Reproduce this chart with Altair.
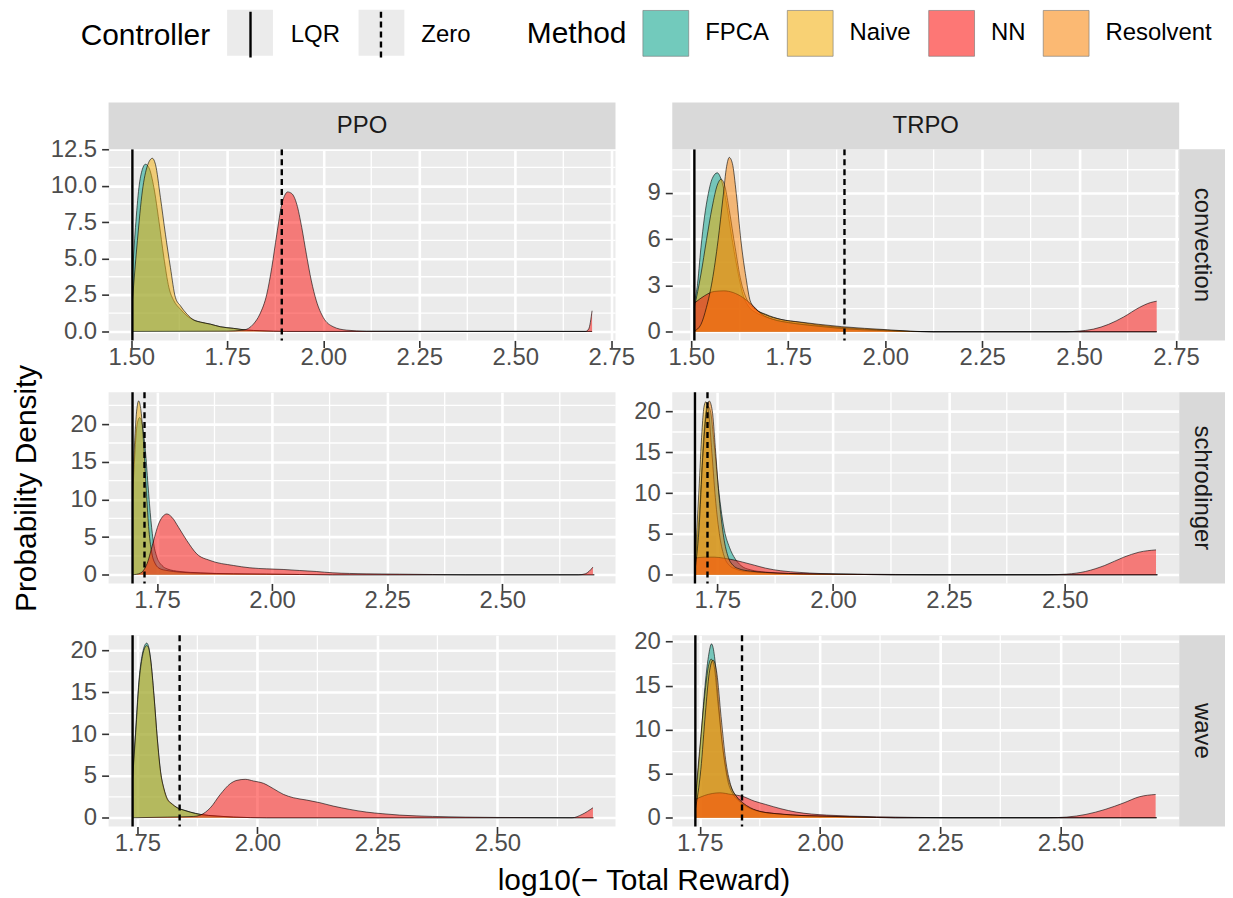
import altair as alt
import pandas as pd

FONT = "Liberation Sans"
PW, PH = 509, 192      # panel plot area
SH, RW = 47, 46        # strip thickness (top strips, right strips)

ALGOS = ["PPO", "TRPO"]
ENVS = ["convection", "schrodinger", "wave"]
METHODS = ["FPCA", "Naive", "NN", "Resolvent"]
METHOD_COLORS = ["#00A087", "#F3AD03", "#FD0905", "#F98101"]
CONTROLLERS = ["LQR", "Zero"]
CONTROLLER_DASH = [[1, 0], [6, 4]]
X_TITLE = "log10(\u2212 Total Reward)"
Y_TITLE = "Probability Density"

X_TICKS_CONV = [1.50, 1.75, 2.00, 2.25, 2.50, 2.75]
X_TICKS_OTHER = [1.75, 2.00, 2.25, 2.50]
Y_TICKS_PPO_CONV = [0, 2.5, 5, 7.5, 10, 12.5]
Y_TICKS_TRPO_CONV = [0, 3, 6, 9]
Y_TICKS_OTHER = [0, 5, 10, 15, 20]

LQR_VALUES = {
    ("convection", "PPO"): 1.503, ("convection", "TRPO"): 1.508,
    ("schrodinger", "PPO"): 1.697, ("schrodinger", "TRPO"): 1.702,
    ("wave", "PPO"): 1.740, ("wave", "TRPO"): 1.741,
}
ZERO_VALUES = {
    ("convection", "PPO"): 1.892, ("convection", "TRPO"): 1.895,
    ("schrodinger", "PPO"): 1.723, ("schrodinger", "TRPO"): 1.729,
    ("wave", "PPO"): 1.838, ("wave", "TRPO"): 1.838,
}
X_DOMAINS = {
    ("convection", "PPO"): [1.441, 2.761], ("convection", "TRPO"): [1.451, 2.758],
    ("schrodinger", "PPO"): [1.645, 2.746], ("schrodinger", "TRPO"): [1.653, 2.747],
    ("wave", "PPO"): [1.690, 2.746], ("wave", "TRPO"): [1.693, 2.747],
}
Y_DOMAINS = {
    ("convection", "PPO"): [-0.62, 12.5], ("convection", "TRPO"): [-0.565, 11.83],
    ("schrodinger", "PPO"): [-1.15, 24.24], ("schrodinger", "TRPO"): [-1.065, 22.37],
    ("wave", "PPO"): [-1.04, 21.84], ("wave", "TRPO"): [-0.99, 20.72],
}

# ---- density curves (x, density) ----
PPO_CONV_FPCA = [(1.503, 3.93), (1.511, 7.13), (1.520, 9.87), (1.529, 11.13), (1.537, 11.47), (1.546, 11.24),
                 (1.559, 9.87), (1.572, 7.59), (1.585, 5.07), (1.598, 3.02), (1.611, 2.10), (1.628, 1.53),
                 (1.645, 1.07), (1.663, 0.78), (1.680, 0.64), (1.706, 0.50), (1.732, 0.32), (1.766, 0.21),
                 (1.801, 0.09), (1.835, 0.05), (1.905, 0.0), (2.700, 0.0)]
PPO_CONV_NAIVE = [(1.503, 2.10), (1.516, 6.22), (1.529, 9.64), (1.542, 11.36), (1.555, 11.88), (1.563, 11.47),
                  (1.576, 9.19), (1.589, 6.67), (1.602, 4.39), (1.615, 2.33), (1.628, 1.76), (1.645, 1.19),
                  (1.663, 0.78), (1.680, 0.64), (1.706, 0.50), (1.732, 0.32), (1.766, 0.21), (1.801, 0.09),
                  (1.835, 0.05), (1.905, 0.0), (2.700, 0.0)]
PPO_CONV_NN = [(1.503, 0.0), (1.749, 0.02), (1.792, 0.09), (1.818, 0.50), (1.835, 1.19), (1.853, 2.56),
               (1.866, 4.39), (1.879, 6.67), (1.892, 8.73), (1.900, 9.35), (1.907, 9.57), (1.918, 9.46),
               (1.931, 8.73), (1.944, 7.13), (1.956, 5.30), (1.969, 3.47), (1.982, 2.10), (2.000, 0.96),
               (2.026, 0.32), (2.060, 0.09), (2.112, 0.02), (2.683, 0.0), (2.691, 0.16), (2.700, 1.42)]

TRPO_CONV_FPCA = [(1.508, 2.0), (1.515, 2.87), (1.525, 5.48), (1.534, 7.43), (1.544, 8.96), (1.554, 9.93),
                  (1.567, 10.30), (1.579, 9.72), (1.591, 8.30), (1.603, 6.35), (1.618, 4.17), (1.633, 2.43),
                  (1.647, 1.67), (1.667, 1.24), (1.692, 0.96), (1.731, 0.70), (1.780, 0.52), (1.829, 0.39),
                  (1.888, 0.26), (1.947, 0.15), (2.006, 0.09), (2.065, 0.02), (2.124, 0.0), (2.700, 0.0)]
TRPO_CONV_NAIVE = [(1.508, 1.57), (1.525, 3.74), (1.539, 5.91), (1.554, 8.09), (1.567, 9.50), (1.577, 9.89),
                   (1.587, 9.39), (1.598, 7.87), (1.613, 5.48), (1.628, 3.30), (1.643, 2.11), (1.662, 1.52),
                   (1.692, 1.13), (1.731, 0.80), (1.780, 0.61), (1.829, 0.43), (1.888, 0.28), (1.947, 0.17),
                   (2.006, 0.09), (2.065, 0.02), (2.124, 0.0), (2.700, 0.0)]
TRPO_CONV_NN = [(1.508, 1.85), (1.534, 2.33), (1.559, 2.61), (1.584, 2.65), (1.608, 2.54), (1.633, 2.22),
                (1.657, 1.74), (1.682, 1.13), (1.711, 0.80), (1.751, 0.59), (1.800, 0.43), (1.849, 0.30),
                (1.908, 0.17), (1.977, 0.09), (2.026, 0.04), (2.124, 0.0), (2.468, 0.0), (2.497, 0.04),
                (2.537, 0.17), (2.576, 0.48), (2.615, 0.96), (2.655, 1.57), (2.684, 1.89), (2.700, 1.98)]
TRPO_CONV_RES = [(1.508, 0.05), (1.525, 0.48), (1.539, 1.57), (1.554, 3.30), (1.569, 5.91), (1.582, 8.74),
                 (1.591, 10.70), (1.598, 11.30), (1.606, 10.91), (1.616, 8.96), (1.628, 5.91), (1.641, 3.52),
                 (1.652, 2.00), (1.667, 1.46), (1.692, 1.09), (1.731, 0.80), (1.780, 0.63), (1.829, 0.48),
                 (1.888, 0.33), (1.947, 0.22), (2.006, 0.13), (2.065, 0.04), (2.124, 0.0), (2.700, 0.0)]

PPO_SCHRO_FPCA = [(1.697, 9.85), (1.702, 16.03), (1.707, 20.0), (1.7125, 20.88), (1.718, 20.0), (1.725, 16.47),
                  (1.7305, 12.05), (1.737, 7.20), (1.743, 4.11), (1.750, 2.34), (1.761, 1.24), (1.772, 0.79),
                  (1.800, 0.44), (1.844, 0.26), (1.916, 0.13), (1.988, 0.09), (2.060, 0.04), (2.132, 0.0),
                  (2.700, 0.0)]
PPO_SCHRO_NAIVE = [(1.697, 12.05), (1.7017, 17.79), (1.7053, 21.32), (1.7103, 23.09), (1.7154, 21.77),
                   (1.7212, 17.35), (1.7269, 11.17), (1.7327, 5.87), (1.7392, 2.78), (1.7464, 1.46),
                   (1.7572, 0.79), (1.7716, 0.57), (1.800, 0.35), (1.844, 0.22), (1.916, 0.13), (1.988, 0.09),
                   (2.060, 0.04), (2.132, 0.0), (2.700, 0.0)]
PPO_SCHRO_NN = [(1.697, 0.0), (1.7139, 0.22), (1.7284, 1.46), (1.7428, 4.55), (1.7536, 6.75), (1.7644, 7.86),
                (1.7716, 8.08), (1.7825, 7.64), (1.7969, 6.31), (1.8149, 4.55), (1.8365, 2.78), (1.8654, 1.90),
                (1.9159, 1.24), (1.9519, 0.93), (1.988, 0.79), (2.024, 0.71), (2.0601, 0.57), (2.0961, 0.44),
                (2.1322, 0.26), (2.1683, 0.18), (2.2043, 0.13), (2.2764, 0.09), (2.3485, 0.04), (2.4206, 0.0),
                (2.6658, 0.0), (2.6803, 0.13), (2.697, 1.02)]

TRPO_SCHRO_FPCA = [(1.702, 0.94), (1.713, 9.08), (1.721, 17.2), (1.7286, 20.7), (1.7352, 20.1), (1.7434, 16.0),
                   (1.7541, 9.90), (1.7656, 5.42), (1.7763, 3.38), (1.7887, 1.96), (1.801, 1.14), (1.8215, 0.61),
                   (1.8544, 0.33), (1.9038, 0.16), (1.9696, 0.08), (2.0518, 0.04), (2.134, 0.0), (2.700, 0.0)]
TRPO_SCHRO_NAIVE = [(1.702, 1.34), (1.7105, 10.3), (1.7171, 17.6), (1.7212, 20.5), (1.7253, 21.2),
                    (1.7311, 20.1), (1.7377, 15.6), (1.7459, 9.49), (1.7558, 4.60), (1.7656, 2.16),
                    (1.7763, 1.14), (1.7887, 0.73), (1.8051, 0.45), (1.838, 0.29), (1.8873, 0.16),
                    (1.9696, 0.08), (2.0518, 0.04), (2.134, 0.0), (2.700, 0.0)]
TRPO_SCHRO_NN = [(1.702, 2.04), (1.7229, 2.16), (1.7434, 2.16), (1.764, 2.04), (1.7845, 1.83), (1.8051, 1.55),
                 (1.8298, 1.18), (1.8544, 0.81), (1.8873, 0.49), (1.9285, 0.29), (1.9696, 0.16), (2.0518, 0.08),
                 (2.134, 0.04), (2.216, 0.0), (2.463, 0.0), (2.5041, 0.08), (2.5452, 0.41), (2.5863, 1.14),
                 (2.6275, 2.16), (2.6604, 2.77), (2.697, 3.05)]
TRPO_SCHRO_RES = [(1.702, 0.53), (1.7105, 5.42), (1.7188, 14.4), (1.727, 20.1), (1.7327, 21.3), (1.7393, 20.1),
                  (1.7459, 15.6), (1.7541, 9.49), (1.764, 4.60), (1.7738, 2.16), (1.7845, 1.14), (1.7969, 0.73),
                  (1.8215, 0.45), (1.8544, 0.29), (1.9038, 0.16), (1.9696, 0.08), (2.0518, 0.04), (2.134, 0.0),
                  (2.700, 0.0)]

PPO_WAVE_FPCA = [(1.740, 5.0), (1.7465, 10.6), (1.7535, 16.6), (1.7604, 19.6), (1.7659, 20.7), (1.7694, 20.9),
                 (1.7728, 20.6), (1.7776, 19.0), (1.7846, 14.6), (1.7915, 9.4), (1.7984, 5.4), (1.8053, 3.4),
                 (1.8122, 2.2), (1.8226, 1.6), (1.8329, 1.2), (1.8468, 0.92), (1.8606, 0.68), (1.8813, 0.40),
                 (1.9159, 0.20), (1.9505, 0.08), (2.0196, 0.0), (2.700, 0.0)]
PPO_WAVE_NAIVE = [(1.740, 4.6), (1.7465, 10.2), (1.7535, 16.2), (1.7604, 19.3), (1.7659, 20.4), (1.7694, 20.6),
                  (1.7728, 20.4), (1.7776, 18.9), (1.7846, 14.6), (1.7915, 9.5), (1.7984, 5.5), (1.8053, 3.5),
                  (1.8122, 2.3), (1.8226, 1.65), (1.8329, 1.2), (1.8468, 0.9), (1.8606, 0.66), (1.8813, 0.40),
                  (1.9159, 0.20), (1.9505, 0.08), (2.0196, 0.0), (2.700, 0.0)]
PPO_WAVE_NN = [(1.740, 0.0), (1.812, 0.08), (1.847, 0.12), (1.8675, 0.16), (1.8813, 0.32), (1.9021, 1.2),
               (1.9228, 2.8), (1.9435, 4.08), (1.9574, 4.48), (1.9747, 4.6), (1.9919, 4.4), (2.0127, 4.12),
               (2.0334, 3.48), (2.0541, 2.8), (2.0749, 2.4), (2.1025, 2.12), (2.1302, 1.8), (2.1578, 1.4),
               (2.1924, 1.0), (2.2269, 0.68), (2.2615, 0.48), (2.2961, 0.32), (2.3652, 0.16), (2.4343, 0.08),
               (2.5034, 0.04), (2.6555, 0.0), (2.6763, 0.4), (2.699, 1.2)]

TRPO_WAVE_FPCA = [(1.741, 1.7), (1.7524, 8.87), (1.7603, 14.5), (1.7682, 18.3), (1.7746, 19.74), (1.7809, 18.3),
                  (1.7881, 13.8), (1.796, 8.87), (1.8063, 5.09), (1.8174, 3.2), (1.8317, 2.08), (1.8475, 1.32),
                  (1.8713, 0.75), (1.903, 0.49), (1.9427, 0.30), (1.9982, 0.19), (2.0775, 0.08), (2.1567, 0.0),
                  (2.700, 0.0)]
TRPO_WAVE_NAIVE = [(1.741, 2.08), (1.7524, 9.25), (1.7603, 13.8), (1.7682, 17.2), (1.7738, 18.0), (1.7801, 17.2),
                   (1.7881, 13.0), (1.7976, 8.11), (1.8079, 4.34), (1.8198, 2.64), (1.8317, 1.89), (1.8475, 1.25),
                   (1.8713, 0.75), (1.903, 0.49), (1.9427, 0.30), (1.9982, 0.19), (2.0775, 0.08), (2.1567, 0.0),
                   (2.700, 0.0)]
TRPO_WAVE_NN = [(1.741, 2.08), (1.7603, 2.53), (1.792, 2.83), (1.8158, 2.64), (1.838, 2.45), (1.8634, 1.89),
                (1.8872, 1.51), (1.9189, 1.02), (1.9506, 0.64), (1.9823, 0.42), (2.014, 0.30), (2.0616, 0.19),
                (2.1171, 0.11), (2.1964, 0.04), (2.2757, 0.0), (2.4739, 0.0), (2.5135, 0.08), (2.5532, 0.38),
                (2.5928, 0.94), (2.6324, 1.7), (2.6641, 2.38), (2.698, 2.64)]
TRPO_WAVE_RES = [(1.741, 0.94), (1.7524, 5.47), (1.7619, 11.9), (1.7698, 16.4), (1.7777, 17.9), (1.7857, 16.4),
                 (1.7944, 11.5), (1.8039, 6.6), (1.8142, 3.77), (1.8261, 2.45), (1.8396, 1.7), (1.8555, 1.13),
                 (1.8792, 0.68), (1.9189, 0.42), (1.9585, 0.26), (1.9982, 0.19), (2.0775, 0.08), (2.1567, 0.0),
                 (2.700, 0.0)]

CURVES = {
    ("convection", "PPO"): {"FPCA": PPO_CONV_FPCA, "Naive": PPO_CONV_NAIVE, "NN": PPO_CONV_NN},
    ("convection", "TRPO"): {"FPCA": TRPO_CONV_FPCA, "Naive": TRPO_CONV_NAIVE, "NN": TRPO_CONV_NN,
                             "Resolvent": TRPO_CONV_RES},
    ("schrodinger", "PPO"): {"FPCA": PPO_SCHRO_FPCA, "Naive": PPO_SCHRO_NAIVE, "NN": PPO_SCHRO_NN},
    ("schrodinger", "TRPO"): {"FPCA": TRPO_SCHRO_FPCA, "Naive": TRPO_SCHRO_NAIVE, "NN": TRPO_SCHRO_NN,
                              "Resolvent": TRPO_SCHRO_RES},
    ("wave", "PPO"): {"FPCA": PPO_WAVE_FPCA, "Naive": PPO_WAVE_NAIVE, "NN": PPO_WAVE_NN},
    ("wave", "TRPO"): {"FPCA": TRPO_WAVE_FPCA, "Naive": TRPO_WAVE_NAIVE, "NN": TRPO_WAVE_NN,
                       "Resolvent": TRPO_WAVE_RES},
}

fill_scale = alt.Scale(domain=METHODS, range=METHOD_COLORS)
dash_scale = alt.Scale(domain=CONTROLLERS, range=CONTROLLER_DASH)

LEGEND_COMMON = dict(
    orient="none", legendY=-140, direction="horizontal", titleOrient="left",
    titleFont=FONT, titleFontSize=30, titleFontWeight="normal",
    titlePadding=15, titleAnchor="middle", titleBaseline="middle",
    labelFont=FONT, labelFontSize=24, labelOffset=16,
    symbolSize=2116, padding=0,
)
method_legend = alt.Legend(title="Method", legendX=420, symbolType="square", symbolStrokeColor="black",
                           symbolStrokeWidth=0.6, symbolOpacity=0.55, titleColor="black", labelColor="black",
                           columnPadding=16, zindex=1, **LEGEND_COMMON)
ctrl_legend = alt.Legend(title="Controller", legendX=-28, symbolType="M0,-1L0,1", symbolStrokeColor="black",
                         symbolFillColor="transparent", symbolStrokeWidth=2.4, titleColor="black",
                         labelColor="black", columnPadding=16, zindex=2, **LEGEND_COMMON)
# grey key backgrounds drawn behind the controller keys (no title, empty labels)
key_bg_legend = alt.Legend(title=None, legendX=119, symbolOpacity=1, symbolStrokeWidth=0,
                           symbolFillColor="#EBEBEB", symbolType="square", labelExpr="''",
                           columnPadding=70, zindex=1, **LEGEND_COMMON)


def minor_values(ticks, dom):
    step = ticks[1] - ticks[0]
    cands = [ticks[0] - step / 2] + [t + step / 2 for t in ticks]
    return [c for c in cands if dom[0] < c < dom[1]]


def panel(r, c):
    env, algo = ENVS[r], ALGOS[c]
    key = (env, algo)
    xdom, ydom = X_DOMAINS[key], Y_DOMAINS[key]
    xt = X_TICKS_CONV if env == "convection" else X_TICKS_OTHER
    if key == ("convection", "PPO"):
        yt, yfmt = Y_TICKS_PPO_CONV, ".1f"
    elif key == ("convection", "TRPO"):
        yt, yfmt = Y_TICKS_TRPO_CONV, "d"
    else:
        yt, yfmt = Y_TICKS_OTHER, "d"
    xs = alt.Scale(domain=xdom, nice=False, zero=False)
    ys = alt.Scale(domain=ydom, nice=False, zero=False)

    xkw = dict(values=xt, format=".2f", labelFlush=False, labelPadding=-2)
    if r == 2 and c == 0:
        xkw.update(title=X_TITLE, titleX=537, titleY=54, titleAlign="center", titleBaseline="middle")
    else:
        xkw["title"] = None
    ykw = dict(values=yt, format=yfmt, labelPadding=5)
    if r == 1 and c == 0:
        ykw.update(title=Y_TITLE, titleX=-82, titleY=PH / 2, titleAngle=270, titleAlign="center",
                   titleBaseline="middle")
    else:
        ykw["title"] = None
    x_axis = alt.Axis(**xkw)
    y_axis = alt.Axis(**ykw)

    def X(f):
        return alt.X(f, type="quantitative", scale=xs, axis=x_axis)

    def Y(f):
        return alt.Y(f, type="quantitative", scale=ys, axis=y_axis)

    layers = []
    mx = pd.DataFrame({"v": minor_values(xt, xdom)})
    my = pd.DataFrame({"v": minor_values(yt, ydom)})
    layers.append(alt.Chart(mx).mark_rule(color="white", strokeWidth=1.3).encode(x=X("v")))
    layers.append(alt.Chart(my).mark_rule(color="white", strokeWidth=1.3).encode(y=Y("v")))

    for m in METHODS:
        if m not in CURVES[key]:
            continue
        pts = CURVES[key][m]
        df = pd.DataFrame({"x": [p[0] for p in pts], "y": [p[1] for p in pts], "method": m})
        layers.append(
            alt.Chart(df).mark_area(fillOpacity=0.5, interpolate="monotone").encode(
                x=X("x"), y=Y("y"), y2=alt.datum(0),
                fill=alt.Fill("method:N", scale=fill_scale, legend=method_legend),
            )
        )
        layers.append(
            alt.Chart(df).mark_line(color="black", strokeWidth=0.6, interpolate="monotone").encode(
                x=X("x"), y=Y("y")
            )
        )

    ref = pd.DataFrame({"controller": CONTROLLERS, "x": [LQR_VALUES[key], ZERO_VALUES[key]]})
    layers.append(
        alt.Chart(ref).mark_rule(color="black", strokeWidth=2.4).encode(
            x=X("x"),
            strokeDash=alt.StrokeDash("controller:N", scale=dash_scale, legend=ctrl_legend),
        )
    )

    if r == 0 and c == 0:
        # tiny marks hidden under the strip; they only carry the grey key-background legend
        keys = pd.DataFrame({"key": CONTROLLERS})
        layers.append(
            alt.Chart(keys).mark_point(filled=True, color="#EBEBEB", size=20, opacity=1).encode(
                x=alt.value(30), y=alt.value(-SH / 2),
                shape=alt.Shape("key:N", scale=alt.Scale(range=["square", "square"]), legend=key_bg_legend),
            )
        )

    if r == 0:
        lab = pd.DataFrame({"label": [algo]})
        layers.append(alt.Chart(lab).mark_rect(color="#D9D9D9").encode(
            x=alt.value(0), x2=alt.value(PW), y=alt.value(-SH), y2=alt.value(0)))
        layers.append(alt.Chart(lab).mark_text(font=FONT, fontSize=24, color="#1A1A1A", baseline="middle",
                                               align="center").encode(
            x=alt.value(PW / 2), y=alt.value(-SH / 2), text="label:N"))
    if c == 1:
        lab = pd.DataFrame({"label": [env]})
        layers.append(alt.Chart(lab).mark_rect(color="#D9D9D9").encode(
            x=alt.value(PW), x2=alt.value(PW + RW), y=alt.value(0), y2=alt.value(PH)))
        layers.append(alt.Chart(lab).mark_text(font=FONT, fontSize=24, color="#1A1A1A", baseline="middle",
                                               align="center", angle=90).encode(
            x=alt.value(PW + RW / 2), y=alt.value(PH / 2), text="label:N"))

    return alt.layer(*layers).properties(
        width=PW, height=PH, view=alt.ViewBackground(fill="#EBEBEB", stroke=None)
    )


panels = [panel(r, c) for r in range(3) for c in range(2)]

chart = alt.concat(
    *panels, columns=2, spacing={"row": 52, "column": 57}, bounds="flush"
).properties(padding={"left": 3, "top": 0, "right": 0, "bottom": 0}).configure_axis(
    labelFont=FONT, labelFontSize=24, labelColor="#4D4D4D",
    tickColor="#333333", tickWidth=1.6, tickSize=7, domain=False,
    grid=True, gridColor="white", gridWidth=2.6,
    titleFont=FONT, titleFontSize=30, titleFontWeight="normal", titleColor="black",
).configure_view(stroke=None)

chart.save("out.html", embed_options={"renderer": "svg", "actions": False})
